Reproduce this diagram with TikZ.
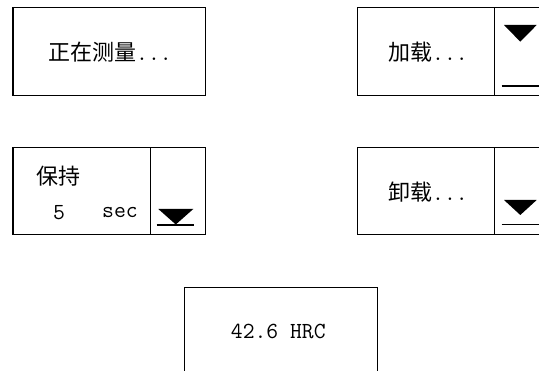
\documentclass[tikz,border=0pt]{standalone}
\usepackage{fontspec}
\newfontfamily\cjk{Noto Sans CJK SC}[Scale=1.0]
\begin{document}
\begin{tikzpicture}[x=1pt,y=-1pt,
  cell/.style={draw=black,line width=1.2pt,rectangle,inner sep=0pt,anchor=north west},
  lbl/.style={inner sep=0pt,font=\fontsize{23}{26}\selectfont},
  tri/.style={fill=black},
  uline/.style={draw=black,line width=1.2pt}]
\useasboundingbox (0,0) rectangle (539,371);
\clip (0,0) rectangle (539,371);
% box 1
\node[cell,minimum width=192.4pt,minimum height=87.7pt] (b1) at (12.3,7.3) {};
\node[lbl] (t1) at (110,52) {{\cjk\fontsize{22}{26}\selectfont 正在测量}\ttfamily...};
% box 2
\node[cell,minimum width=137.3pt,minimum height=87.7pt] (b2) at (356.7,7.3) {};
\node[cell,minimum width=55pt,minimum height=87.7pt] (b2r) at (494,7.3) {};
\node[lbl] (t2) at (428,52) {{\cjk\fontsize{22}{26}\selectfont 加载}\ttfamily...};
\fill[tri] (504,25) -- (536.7,25) -- (520.3,41.7) -- cycle;
\draw[uline] (501.7,86) -- (545,86);
% box 3
\node[cell,minimum width=137.4pt,minimum height=86.7pt] (b3) at (12.3,147.3) {};
\node[cell,minimum width=55pt,minimum height=86.7pt] (b3r) at (149.7,147.3) {};
\node[lbl] (t3a) at (58,176) {\cjk\fontsize{22}{26}\selectfont 保持};
\node[lbl] (t3b) at (59,213) {\ttfamily 5};
\node[lbl] (t3c) at (120,213) {\ttfamily sec};
\fill[tri] (158.3,209) -- (193.3,209) -- (175.8,224.5) -- cycle;
\draw[uline] (156.7,225) -- (194.3,225);
% box 4
\node[cell,minimum width=137.3pt,minimum height=86.7pt] (b4) at (356.7,147.3) {};
\node[cell,minimum width=55pt,minimum height=86.7pt] (b4r) at (494,147.3) {};
\node[lbl] (t4) at (428,192) {{\cjk\fontsize{22}{26}\selectfont 卸载}\ttfamily...};
\fill[tri] (504,200) -- (536.7,200) -- (520.3,215) -- cycle;
\draw[uline] (501.7,224.3) -- (545,224.3);
% box 5
\node[cell,minimum width=192.7pt,minimum height=88pt] (b5) at (184,286.7) {};
\node[lbl] (t5) at (278.3,331) {\ttfamily 42.6 HRC};
\end{tikzpicture}
\end{document}
